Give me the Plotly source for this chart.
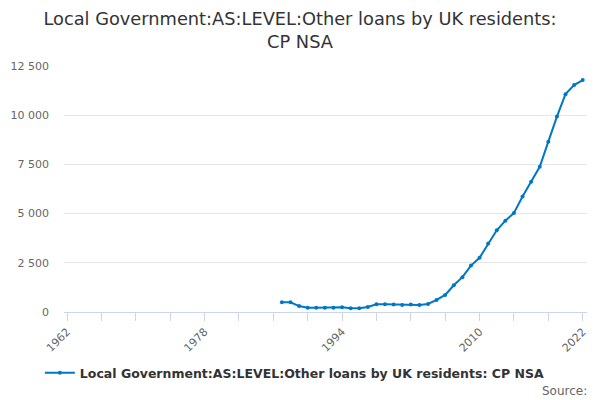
import plotly.graph_objects as go

years = list(range(1987, 2023))
values = [500, 490, 300, 220, 210, 210, 215, 240, 190, 190, 255, 390, 390, 380, 360, 380, 360, 410,
          612, 867, 1360, 1770, 2360, 2755, 3485, 4150, 4640, 5035, 5870, 6615, 7380, 8655, 9930,
          11070, 11530, 11785]
series_name = "Local Government:AS:LEVEL:Other loans by UK residents: CP NSA"
title_text = "Local Government:AS:LEVEL:Other loans by UK residents:<br>CP NSA"
x_labels = [1962, 1978, 1994, 2010, 2022]
y_ticks = [0, 2500, 5000, 7500, 10000, 12500]

FONT = "DejaVu Sans, Open Sans, sans-serif"
BLUE = "#0077c6"

fig = go.Figure()
fig.add_trace(go.Scatter(
    x=years, y=values, mode="lines+markers", name=series_name,
    line=dict(color=BLUE, width=2),
    marker=dict(color=BLUE, size=4, symbol="circle"),
))

fig.update_layout(
    width=600, height=400,
    paper_bgcolor="white", plot_bgcolor="white",
    separators=". ",
    font=dict(family=FONT, color="#333333"),
    title=dict(text=title_text, x=0.5, xanchor="center", y=0.9375, yanchor="middle",
               font=dict(family=FONT, size=17.8, color="#333333")),
    margin=dict(l=64, r=13, t=66, b=88, autoexpand=False),
    showlegend=True,
    legend=dict(orientation="h", x=0.4414, xanchor="center", y=-0.248, yanchor="middle",
                font=dict(family=FONT, size=12.5, color="#333333", weight="bold")),
    xaxis=dict(
        range=[1961.65, 2022.5], automargin=False,
        tickvals=x_labels, ticktext=[str(v) for v in x_labels],
        tickangle=-45, ticks="outside", ticklen=8, tickcolor="#ccd6eb",
        tickfont=dict(family=FONT, size=11, color="#666666"),
        showline=True, linecolor="#ccd6eb", linewidth=1,
        showgrid=False, zeroline=False,
        minor=dict(tick0=1962, dtick=4, ticks="outside", ticklen=8, tickcolor="#ccd6eb", showgrid=False),
    ),
    yaxis=dict(
        range=[0, 12500], automargin=False,
        tickvals=y_ticks,
        tickformat=",d",
        showgrid=True, gridcolor="#e6e6e6", gridwidth=1,
        zeroline=False, showline=False,
        tickfont=dict(family=FONT, size=11, color="#666666"),
        ticks="", ticklabelstandoff=14,
    ),
    annotations=[dict(text="Source:", xref="paper", yref="paper", x=1.004, y=-0.321,
                      xanchor="right", yanchor="middle", showarrow=False,
                      font=dict(family=FONT, size=12, color="#666666"))],
)

fig.write_html("out.html", config={"displayModeBar": False},
               post_script="document.body.style.margin='0';")
